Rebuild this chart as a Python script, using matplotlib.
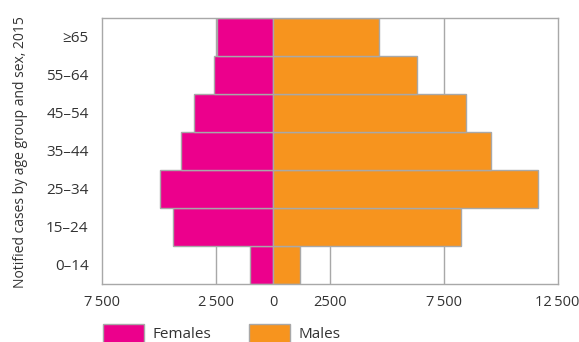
import matplotlib
matplotlib.use('Agg')
import matplotlib.pyplot as plt
from matplotlib.patches import Patch

plt.rcParams['font.family'] = ['Open Sans', 'DejaVu Sans']

# Data
age_groups = ['0–14', '15–24', '25–34', '35–44', '45–54', '55–64', '≥65']
females = [1010, 4420, 4960, 4070, 3470, 2620, 2450]
males = [1160, 8250, 11650, 9560, 8480, 6330, 4670]
xticks = [-7500, -2500, 0, 2500, 7500, 12500]
xtick_labels = ['7\u2009500', '2\u2009500', '0', '2500', '7\u2009500', '12\u2009500']

pink = '#EC008C'
orange = '#F7941E'
edge = '#A8A8A8'
text_col = '#333333'

fig = plt.figure(figsize=(5.79, 3.42), dpi=100)
ax = fig.add_axes([0.177, 0.170, 0.786, 0.778])

y = range(len(age_groups))
ax.barh(y, [-f for f in females], height=1.0, color=pink, edgecolor=edge, linewidth=1, zorder=2)
ax.barh(y, males, height=1.0, color=orange, edgecolor=edge, linewidth=1, zorder=2)

for gx in [-2500, 2500, 7500]:
    ax.axvline(gx, color=edge, linewidth=1, zorder=1)

ax.set_xlim(-7500, 12500)
ax.set_ylim(-0.5, len(age_groups) - 0.5)
ax.set_xticks(xticks)
ax.set_xticklabels(xtick_labels)
ax.set_yticks(list(y))
ax.set_yticklabels(age_groups)
ax.tick_params(length=0, labelsize=11, colors=text_col, pad=10)
ax.tick_params(axis='x', labelsize=10.5, pad=8)
for s in ax.spines.values():
    s.set_color(edge)
    s.set_linewidth(1)

fig.text(0.035, 0.555, 'Notified cases by age group and sex, 2015', rotation=90,
         ha='center', va='center', fontsize=10, color=text_col)

handles = [Patch(facecolor=pink, edgecolor=edge, label='Females'),
           Patch(facecolor=orange, edgecolor=edge, label='Males')]
leg = fig.legend(handles=handles, loc='upper left', bbox_to_anchor=(0.178, 0.053),
                 ncol=2, frameon=False, fontsize=11, handlelength=2.7, handleheight=1.5,
                 handletextpad=0.55, columnspacing=2.45, borderaxespad=0, borderpad=0)
for t in leg.get_texts():
    t.set_color(text_col)

fig.savefig('out.png', dpi=100)
